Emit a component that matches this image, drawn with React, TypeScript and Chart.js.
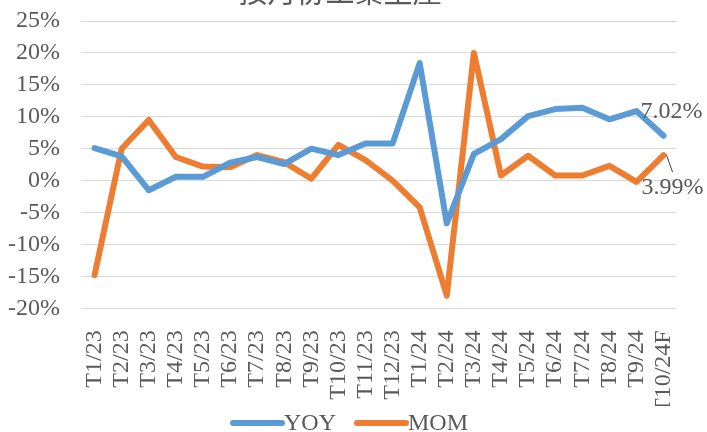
import React, { useEffect, useRef } from "react";
import { Chart, registerables } from "chart.js";

Chart.register(...registerables);

const TITLE = "按月份工業生產";
const CATEGORIES = [
  "T1/23", "T2/23", "T3/23", "T4/23", "T5/23", "T6/23", "T7/23", "T8/23", "T9/23", "T10/23", "T11/23",
  "T12/23", "T1/24", "T2/24", "T3/24", "T4/24", "T5/24", "T6/24", "T7/24", "T8/24", "T9/24", "T10/24F",
];
const YOY = [5.1, 3.8, -1.5, 0.6, 0.6, 2.8, 3.7, 2.6, 5.0, 4.0, 5.8, 5.8, 18.4, -6.7, 4.2, 6.5, 10.1, 11.2, 11.4, 9.6, 10.9, 7.02];
const MOM = [-14.8, 5.0, 9.5, 3.7, 2.2, 2.1, 4.0, 2.9, 0.3, 5.6, 3.2, 0.0, -4.2, -18.0, 20.0, 0.8, 3.9, 0.8, 0.8, 2.3, -0.2, 3.99];
const Y_MIN = -20;
const Y_MAX = 25;
const Y_STEP = 5;

const TEXT = "#595959";
const SERIF = "'Liberation Serif', 'Times New Roman', serif";
const SWATCH = 54;

const overlay = {
  id: "overlay",
  afterDraw(chart: any) {
    const ctx = chart.ctx;
    ctx.save();
    ctx.font = "29px 'Noto Sans CJK TC'";
    ctx.fillStyle = TEXT;
    ctx.textAlign = "center";
    ctx.textBaseline = "alphabetic";
    ctx.fillText(TITLE, 340, 3);

    const m0 = chart.getDatasetMeta(0);
    const m1 = chart.getDatasetMeta(1);
    const p0 = m0.data[m0.data.length - 1];
    const p1 = m1.data[m1.data.length - 1];
    ctx.font = `24px ${SERIF}`;
    ctx.textBaseline = "middle";
    ctx.fillStyle = TEXT;
    ctx.fillText(`${YOY[YOY.length - 1].toFixed(2)}%`, p0.x + 8, p0.y - 24);
    ctx.fillText(`${MOM[MOM.length - 1].toFixed(2)}%`, p1.x + 9, p1.y + 33);
    ctx.strokeStyle = "#404040";
    ctx.lineWidth = 1;
    ctx.beginPath();
    ctx.moveTo(p1.x + 3, p1.y);
    ctx.lineTo(p1.x + 9, p1.y + 17);
    ctx.stroke();

    // legend swatches, placed right against their text
    const lg = chart.legend;
    if (lg && lg.legendHitBoxes) {
      lg.legendHitBoxes.forEach((hb: any, i: number) => {
        const ds = chart.data.datasets[i];
        const textX = hb.left + SWATCH + 12;
        const y = hb.top + 11;
        ctx.strokeStyle = ds.borderColor;
        ctx.lineWidth = 6;
        ctx.lineCap = "round";
        ctx.beginPath();
        ctx.moveTo(textX - SWATCH + 3, y);
        ctx.lineTo(textX - 2, y);
        ctx.stroke();
      });
    }
    ctx.restore();
  },
};

export default function App() {
  const ref = useRef<HTMLCanvasElement>(null);
  useEffect(() => {
    document.body.style.margin = "0";
    document.body.style.overflow = "hidden";
    const chart = new Chart(ref.current!, {
      type: "line",
      data: {
        labels: CATEGORIES,
        datasets: [
          {
            label: "YOY",
            data: YOY,
            borderColor: "#5B9BD5",
            backgroundColor: "#5B9BD5",
            borderWidth: 6,
            pointRadius: 0,
            pointStyle: "line",
            borderCapStyle: "round",
            borderJoinStyle: "round",
            tension: 0,
          },
          {
            label: "MOM",
            data: MOM,
            borderColor: "#ED7D31",
            backgroundColor: "#ED7D31",
            borderWidth: 6,
            pointRadius: 0,
            pointStyle: "line",
            borderCapStyle: "round",
            borderJoinStyle: "round",
            tension: 0,
          },
        ],
      },
      options: {
        animation: false,
        responsive: true,
        maintainAspectRatio: false,
        layout: { padding: { top: 21, left: 7, right: 28, bottom: 0 } },
        plugins: {
          title: { display: false },
          tooltip: { enabled: false },
          legend: {
            position: "bottom",
            labels: {
              usePointStyle: true,
              pointStyle: "line",
              pointStyleWidth: SWATCH,
              boxHeight: 6,
              padding: 6,
              color: TEXT,
              font: { family: SERIF, size: 24 },
              generateLabels: (c: any) =>
                Chart.defaults.plugins.legend.labels
                  .generateLabels(c)
                  .map((l: any) => ({ ...l, strokeStyle: "rgba(0,0,0,0)", fillStyle: "rgba(0,0,0,0)" })),
            },
          },
        },
        scales: {
          x: {
            offset: true,
            grid: { display: false },
            border: { display: false },
            afterFit: (s: any) => {
              s.height -= 21;
            },
            ticks: {
              autoSkip: false,
              maxRotation: 90,
              minRotation: 90,
              padding: 14,
              color: TEXT,
              font: { family: SERIF, size: 24 },
            },
          },
          y: {
            min: Y_MIN,
            max: Y_MAX,
            grid: { color: "#D9D9D9", lineWidth: 1, drawTicks: false },
            border: { display: false },
            afterFit: (s: any) => {
              s.width = 74;
              s.paddingTop = 0;
              s.paddingBottom = 0;
            },
            ticks: {
              autoSkip: false,
              stepSize: Y_STEP,
              padding: 21,
              color: TEXT,
              font: { family: SERIF, size: 24 },
              callback: (v: any) => `${v}%`,
            },
          },
        },
      },
      plugins: [overlay],
    });
    return () => chart.destroy();
  }, []);
  return (
    <div style={{ position: "fixed", left: 0, top: 0, width: 707, height: 446 }}>
      <canvas ref={ref} />
    </div>
  );
}
